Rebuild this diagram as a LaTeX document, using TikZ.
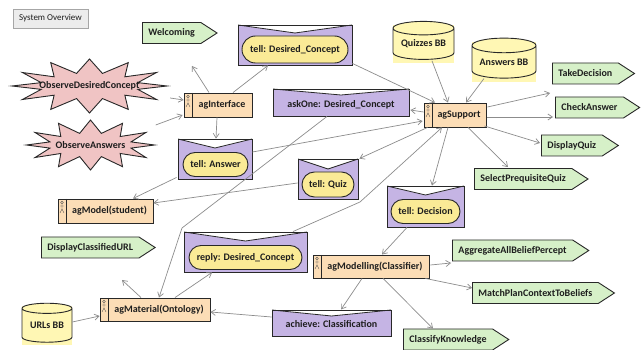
\documentclass[tikz,border=0pt]{standalone}
\usepackage{fontspec}
\setmainfont{Carlito}
\usetikzlibrary{shapes.symbols,shapes.geometric,shapes.misc,arrows.meta,calc}
\definecolor{agfill}{RGB}{252,221,182}
\definecolor{envfill}{RGB}{197,180,228}
\definecolor{ellfill}{RGB}{250,234,150}
\definecolor{grfill}{RGB}{214,240,200}
\definecolor{stfill}{RGB}{240,196,196}
\definecolor{dbfill}{RGB}{255,247,180}
\definecolor{edgec}{RGB}{40,40,40}
\definecolor{linec}{RGB}{140,140,140}
\definecolor{txt}{RGB}{30,30,30}
\begin{document}
\begin{tikzpicture}[x=1pt,y=-1pt,
 lbl/.style={font=\fontsize{10}{12}\selectfont\bfseries, text=txt},
 agent/.style={lbl, rectangle, draw=edgec, line width=0.9pt, fill=agfill, inner sep=0pt,
   minimum width=#1pt, minimum height=24pt, execute at begin node={\hspace*{8pt}},
   path picture={
     \draw[edgec,line width=0.6pt] ([xshift=8pt]path picture bounding box.north west) -- ([xshift=8pt]path picture bounding box.south west);
     \draw[gray!60!black,line width=0.35pt] ([xshift=4pt,yshift=-3.5pt]path picture bounding box.north west) circle (1.4pt)
       ([xshift=4pt,yshift=-4.9pt]path picture bounding box.north west) -- ([xshift=4pt,yshift=-10pt]path picture bounding box.north west)
       ([xshift=2pt,yshift=-7pt]path picture bounding box.north west) -- ([xshift=6pt,yshift=-7pt]path picture bounding box.north west)
       ([xshift=2pt,yshift=-14pt]path picture bounding box.north west) -- ([xshift=4pt,yshift=-10pt]path picture bounding box.north west) -- ([xshift=6pt,yshift=-14pt]path picture bounding box.north west);
   }},
 env/.style n args={3}{lbl, rectangle, draw=edgec, line width=0.9pt, fill=envfill, inner sep=0pt,
   minimum width=#1pt, minimum height=#2pt,
   path picture={
     \fill[white] (path picture bounding box.north west) -- ([yshift=-#3pt]path picture bounding box.north) -- (path picture bounding box.north east) -- cycle;
     \draw[edgec,line width=0.8pt] (path picture bounding box.north west) -- ([yshift=-#3pt]path picture bounding box.north) -- (path picture bounding box.north east);
   }},
 ell/.style 2 args={lbl, rounded rectangle, draw=edgec, line width=0.9pt, fill=ellfill, inner sep=0pt,
   minimum width=#1pt, minimum height=#2pt},
 goal/.style={lbl, signal, signal to=east, signal pointer angle=66, draw=edgec, line width=0.9pt,
   fill=grfill, inner xsep=6pt, inner ysep=0pt, minimum height=21pt, anchor=west},
 burstline/.style={draw=edgec, line width=0.9pt, fill=stfill, line join=miter},
 burst/.style 2 args={lbl, rectangle, inner sep=0pt, minimum width=#1pt, minimum height=#2pt},
 dbback/.style={fill=dbfill},
 db/.style 2 args={lbl, cylinder, shape border rotate=90, aspect=0.3, draw=edgec, line width=0.9pt,
   cylinder uses custom fill, cylinder body fill=dbfill, cylinder end fill=dbfill, inner sep=0pt,
   minimum width=#1pt, minimum height=#2pt},
 con/.style={draw=linec, line width=0.7pt, -{Straight Barb[length=4.5pt,width=6pt]}}
]
\useasboundingbox[fill=white] (0,0) rectangle (641,350);

% title box
\node[rectangle, draw=gray!70, fill=gray!15, minimum width=75pt, minimum height=19pt, inner sep=0pt,
  font=\fontsize{9}{11}\selectfont, text=txt] (sysov) at (50.5,18.5) {System Overview};

% agents
\node[agent=68] (agint) at (218,105) {agInterface};
\node[agent=62] (agsup) at (455,115) {agSupport};
\node[agent=95] (agmod) at (105.5,211) {agModel(student)};
\node[agent=116, minimum height=23pt] (agmdl) at (371,266.5) {agModelling(Classifier)};
\node[agent=110, minimum height=23pt] (agmat) at (155,309.5) {agMaterial(Ontology)};

% messages
\node[env={114}{40}{8}] (telldc) at (295,45) {};
\node[ell={106}{27}] (telldce) at (295,49.5) {tell: Desired\_Concept};
\node[env={136}{27}{6}] (askone) at (341,102.5) {};
\node[lbl] (askonet) at (341,104.5) {askOne: Desired\_Concept};
\node[env={74}{40}{9}] (tella) at (215,159) {};
\node[ell={65}{24}] (tellae) at (215.5,164.5) {tell: Answer};
\node[env={60}{40}{10}] (tellq) at (328,179) {};
\node[ell={52}{25}] (tellqe) at (328,184.5) {tell: Quiz};
\node[env={77}{41}{9}] (telld) at (425.5,206.5) {};
\node[ell={69}{24}] (tellde) at (425.5,211.5) {tell: Decision};
\node[env={123}{40}{9}] (replydc) at (245.5,252) {};
\node[ell={113}{24}] (replydce) at (245.5,257.5) {reply: Desired\_Concept};
\node[env={119}{26}{6}] (achv) at (331.5,323) {};
\node[lbl] (achvt) at (331.5,324.5) {achieve: Classification};

% goals
\node[goal] (welc) at (142,33) {Welcoming};
\node[goal] (takedec) at (552,73.5) {TakeDecision};
\node[goal] (checkans) at (555,107.5) {CheckAnswer};
\node[goal] (dispquiz) at (541,145.5) {DisplayQuiz};
\node[goal] (selpre) at (474,179) {SelectPrequisiteQuiz};
\node[goal] (dispurl) at (41,247.5) {DisplayClassifiedURL};
\node[goal] (aggr) at (452,250.5) {AggregateAllBeliefPercept};
\node[goal] (match) at (472,293) {MatchPlanContextToBeliefs};
\node[goal] (classk) at (403,339.5) {ClassifyKnowledge};

% percepts (starbursts)
\path[burstline] plot[samples at={0,15,...,345}, variable=\t]
  ({89.5+ifthenelse(mod(\t,30)==0,77.5,50)*cos(\t)}, {86-ifthenelse(mod(\t,30)==0,27,13)*sin(\t)}) -- cycle;
\node[burst={155}{54}] (obsdc) at (89.5,86) {ObserveDesiredConcept};
\path[burstline] plot[samples at={0,15,...,345}, variable=\t]
  ({90.5+ifthenelse(mod(\t,30)==0,64,42)*cos(\t)}, {145-ifthenelse(mod(\t,30)==0,25,12)*sin(\t)}) -- cycle;
\node[burst={128}{50}] (obsa) at (90.5,145) {ObserveAnswers};

% belief bases
\fill[dbback] (393,25) rectangle (454,63);
\node[db={61}{38}] (quizbb) at (423.5,44) {Quizzes BB};
\fill[dbback] (472,42) rectangle (536,82);
\node[db={64}{40}] (ansbb) at (504,62) {Answers BB};
\fill[dbback] (22,306) rectangle (72,345);
\node[db={50}{39}] (urlbb) at (47,325.5) {URLs BB};

% free ends
\coordinate (wend) at (192,66);
\coordinate (tdend) at (550,93);
\coordinate (caend) at (553,117);
\coordinate (agend) at (451,263);
\coordinate (urlend) at (122,280);
\coordinate (bend1) at (360,202);
\coordinate (bend2) at (182,228);

% connectors
\draw[con] ($(agint.north)+(-9,0)$) -- (wend);
\draw[con] ($(agint.north)+(15,0)$) -- ($(telldc.south)+(-27,0)$);
\draw[con] ($(obsdc.east)+(3,12)$) -- ($(agint.west)+(0,-5)$);
\draw[con] ($(obsa.east)+(1,-20)$) -- ($(agint.west)+(-1,10)$);
\draw[con] ($(agint.south)+(-1,0)$) -- ($(tella.north)+(1,0)$);
\draw[con] ($(telldc.south east)+(0,-2)$) -- ($(agsup.north)+(-20,0)$);
\draw[con] ($(quizbb.south)+(8.5,1)$) -- ($(agsup.north)+(-7,0)$);
\draw[con] ($(ansbb.south)+(-20,0)$) -- ($(agsup.north)+(11,0)$);
\draw[con] ($(agsup.west)+(0,-3)$) -- ($(askone.east)+(1,7.5)$);
\draw[con] ($(tella.east)+(0,-7)$) -- ($(agsup.west)+(-1,6)$);
\draw[con] ($(agsup.south west)+(4,0)$) -- ($(tellq.north east)+(1,0)$);
\draw[con] ($(replydc.north)+(47.5,0)$) -- (bend1) -- ($(agsup.south)+(-13,0)$);
\draw[con] ($(agsup.south)+(-7,0)$) -- ($(telld.north)+(6.5,0)$);
\draw[con] ($(agsup.east)+(1,-8)$) -- (tdend);
\draw[con] ($(agsup.east)+(1,2)$) -- (caend);
\draw[con] ($(agsup.east)+(-2,11)$) -- ($(dispquiz.west)+(-1,-2.5)$);
\draw[con] ($(agsup.south)+(13,0)$) -- ($(selpre.north west)+(34,-1)$);
\draw[con] ($(askone.south)+(-14,0)$) -- (bend2) -- ($(agmat.north)+(4,0)$);
\draw[con] ($(tella.south west)+(-1,-2)$) -- ($(agmod.north)+(27.5,0)$);
\draw[con] ($(tellq.west)+(0,4)$) -- ($(agmod.east)+(0,-8)$);
\draw[con] ($(telld.south)+(-18.5,0)$) -- ($(agmdl.north)+(11,0)$);
\draw[con] ($(agmdl.east)+(1,-1.5)$) -- (agend);
\draw[con] ($(agmdl.south east)+(-4,0)$) -- ($(match.west)+(0,-5)$);
\draw[con] ($(agmdl.south)+(12,0)$) -- ($(classk.north west)+(30,0)$);
\draw[con] ($(agmdl.south)+(-9,0)$) -- ($(achv.north)+(9.5,0)$);
\draw[con] ($(achv.west)+(0,-6)$) -- ($(agmat.east)+(0,2.5)$);
\draw[con] ($(agmat.north)+(20,0)$) -- ($(replydc.south)+(-33.5,0)$);
\draw[con] ($(agmat.north)+(-14,0)$) -- (urlend);
\draw[con] ($(urlbb.east)+(0,-3.5)$) -- ($(agmat.west)+(0,6.5)$);
\end{tikzpicture}
\end{document}
